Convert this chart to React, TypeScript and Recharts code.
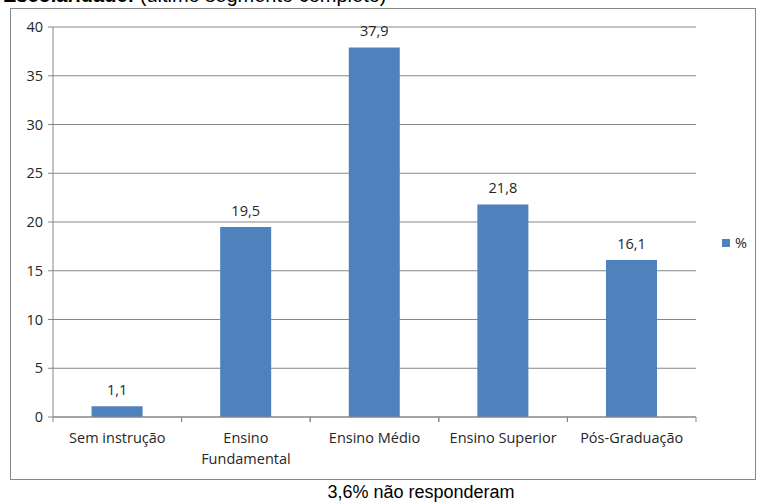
import React from 'react';
import { BarChart, Bar, XAxis, YAxis, CartesianGrid, LabelList } from 'recharts';

const categories = ['Sem instrução', 'Ensino Fundamental', 'Ensino Médio', 'Ensino Superior', 'Pós-Graduação'];
const percentValues = [1.1, 19.5, 37.9, 21.8, 16.1];
const yTicks = [0, 5, 10, 15, 20, 25, 30, 35, 40];

const data = categories.map((name, i) => ({ name, pct: percentValues[i] }));

const W = 759;
const H = 503;
const plotLeft = 53;
const plotRight = 696;
const band = (plotRight - plotLeft) / categories.length;
const FONT = '"Open Sans", "Noto Sans", sans-serif';

const CategoryTick = ({ x, y, payload }: any) => {
  const words: string[] = payload.value === 'Ensino Fundamental' ? ['Ensino', 'Fundamental'] : [payload.value];
  return (
    <g>
      <line x1={x - band / 2} y1={y - 8} x2={x - band / 2} y2={y - 3} stroke="#868686" />
      <line x1={x + band / 2} y1={y - 8} x2={x + band / 2} y2={y - 3} stroke="#868686" />
      <text x={x} y={y + 18} textAnchor="middle" fontSize={14.5} fill="#262626" fontFamily={FONT}>
        {words.map((w, i) => (
          <tspan key={i} x={x} dy={i === 0 ? 0 : 21}>{w}</tspan>
        ))}
      </text>
    </g>
  );
};

const App: React.FC = () => {
  return (
    <div style={{ position: 'absolute', left: 0, top: 0, width: W, height: H, background: '#fff', overflow: 'hidden' }}>
      {/* title, cut off at the top in the original */}
      <div style={{ position: 'absolute', left: 3, top: -16, fontFamily: '"Liberation Sans", Arial, sans-serif', fontSize: 20, color: '#000', whiteSpace: 'nowrap' }}>
        <b>Escolaridade:</b> (último segmento completo)
      </div>
      {/* chart frame */}
      <div style={{ position: 'absolute', left: 10, top: 8, width: 746, height: 472, border: '1px solid #868686', boxSizing: 'border-box', background: '#fff' }} />
      <div style={{ position: 'absolute', left: 0, top: 0 }}>
        <BarChart width={W} height={H} data={data} margin={{ top: 27, right: W - plotRight, bottom: 36, left: 13 }} barCategoryGap="30%">
          <CartesianGrid vertical={false} stroke="#868686" />
          <XAxis
            dataKey="name"
            interval={0}
            height={50}
            stroke="#868686"
            tickLine={false}
            tick={<CategoryTick />}
          />
          <YAxis
            domain={[0, 40]}
            ticks={yTicks}
            width={40}
            stroke="#868686"
            tickSize={5}
            tickMargin={5}
            tick={{ fontSize: 14.5, fill: '#262626', fontFamily: FONT }}
          />
          <Bar dataKey="pct" fill="#4F81BD" isAnimationActive={false}>
            <LabelList
              dataKey="pct"
              position="top"
              offset={11}
              formatter={(v: any) => String(v).replace('.', ',')}
              style={{ fontSize: 14.5, fill: '#262626', fontFamily: FONT }}
            />
          </Bar>
        </BarChart>
      </div>
      {/* legend */}
      <div style={{ position: 'absolute', left: 722, top: 233, display: 'flex', alignItems: 'center', fontFamily: FONT, fontSize: 14.5, color: '#262626' }}>
        <span style={{ display: 'inline-block', width: 8, height: 8, background: '#4F81BD', marginRight: 5 }} />
        %
      </div>
      {/* footnote */}
      <div style={{ position: 'absolute', left: 0, width: 842, top: 482, textAlign: 'center', fontFamily: '"Liberation Sans", Arial, sans-serif', fontSize: 18, color: '#000' }}>
        3,6% não responderam
      </div>
    </div>
  );
};

export default App;
